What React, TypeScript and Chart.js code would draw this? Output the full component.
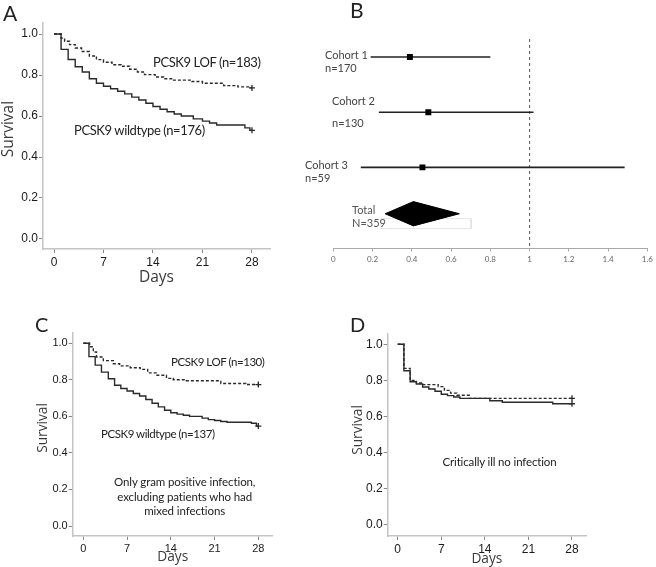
import React, { useEffect, useRef } from 'react';
import { Chart, registerables } from 'chart.js';

Chart.register(...registerables);
Chart.defaults.font.family = 'Liberation Sans';

// ---------------- Data ----------------
const dayTicks = [0, 7, 14, 21, 28];
const survivalTicks = [0, 0.2, 0.4, 0.6, 0.8, 1.0];
const hrTicks = [0, 0.2, 0.4, 0.6, 0.8, 1, 1.2, 1.4, 1.6];

// Panel A – all patients
const aWildDays = [0, 1, 2, 3, 4, 5, 6, 7, 8, 9, 10, 11, 12, 13, 14, 15, 16, 17, 18, 19.7, 21, 22, 23, 27, 27.7, 28];
const aWildSurv = [1, 0.925, 0.876, 0.84, 0.815, 0.782, 0.76, 0.745, 0.733, 0.721, 0.708, 0.692, 0.678, 0.662, 0.646, 0.633, 0.621, 0.61, 0.6, 0.586, 0.575, 0.566, 0.556, 0.542, 0.53, 0.53];
const aLofDays = [0, 1, 1.5, 2.2, 3, 3.9, 5, 6, 7, 8.2, 9.5, 10.7, 11.8, 12.8, 14.3, 15.5, 16.8, 19.5, 21, 24, 26, 27.7, 28];
const aLofSurv = [1, 0.98, 0.965, 0.948, 0.932, 0.915, 0.893, 0.875, 0.862, 0.85, 0.843, 0.828, 0.815, 0.802, 0.79, 0.782, 0.775, 0.768, 0.76, 0.748, 0.742, 0.737, 0.737];

// Panel C – gram positive only
const cWildDays = [0, 0.9, 1.9, 2.9, 4, 5, 6, 7, 8, 9, 10, 11, 12, 13, 14, 15, 16, 17, 19, 20, 21, 22, 23, 26.9, 27.7, 28];
const cWildSurv = [1, 0.927, 0.88, 0.842, 0.806, 0.77, 0.752, 0.739, 0.725, 0.711, 0.692, 0.672, 0.652, 0.633, 0.62, 0.612, 0.606, 0.6, 0.59, 0.582, 0.577, 0.572, 0.568, 0.562, 0.547, 0.547];
const cLofDays = [0, 1, 1.6, 2.1, 3.2, 4.8, 5.8, 7.5, 9.1, 10.3, 11.8, 13.3, 14.4, 16.5, 22, 26, 28];
const cLofSurv = [1, 0.981, 0.952, 0.925, 0.905, 0.888, 0.876, 0.866, 0.857, 0.838, 0.825, 0.808, 0.8, 0.795, 0.78, 0.774, 0.774];

// Panel D – critically ill, no infection
const dWildDays = [0, 1, 2, 3, 4, 5, 6, 7, 8, 9, 10, 14.8, 16.8, 24.9, 28];
const dWildSurv = [1, 0.854, 0.793, 0.78, 0.764, 0.753, 0.74, 0.724, 0.716, 0.708, 0.701, 0.688, 0.679, 0.671, 0.671];
const dLofDays = [0, 1, 2, 3, 4, 6.5, 7.5, 8.5, 9.5, 11.5, 28];
const dLofSurv = [1, 0.867, 0.8, 0.786, 0.777, 0.766, 0.745, 0.73, 0.718, 0.701, 0.701];

// Panel B – forest plot
const cohortLabels = ['Cohort 1', 'Cohort 2', 'Cohort 3'];
const cohortN = ['n=170', 'n=130', 'n=59'];
const cohortHR = [0.39, 0.484, 0.454];
const cohortLow = [0.19, 0.232, 0.14];
const cohortHigh = [0.8, 1.02, 1.484];
const totalLabel = 'Total';
const totalN = 'N=359';
const totalHR = [0.408];
const totalLow = [0.264];
const totalHigh = [0.642];

// ---------------- Helpers ----------------
const INK = '#2a2a2a';
const AXIS = '#c4c4c4';

type Geo = { cx: number; cy: number; cw: number; ch: number; l: number; t: number; r: number; b: number };

function kmSeries(xs: number[], ys: number[], dashed: boolean) {
  const last = xs.length - 1;
  return {
    data: xs.map((x, i) => ({ x, y: ys[i] })),
    stepped: true,
    borderColor: INK,
    borderWidth: 1.4,
    borderDash: dashed ? [3, 2] : [],
    fill: false,
    pointStyle: 'cross',
    pointRadius: (ctx: any) => (ctx.dataIndex === last ? 3 : 0),
    pointBorderColor: INK,
    pointBorderWidth: 1.3,
  };
}

function kmConfig(p: {
  geo: Geo;
  xr: [number, number];
  yr: [number, number];
  wild: [number[], number[]];
  lof: [number[], number[]];
  tickSize: number;
  xTitleSize: number;
  xTitlePad: number;
}): any {
  const g = p.geo;
  return {
    type: 'line',
    data: {
      datasets: [kmSeries(p.wild[0], p.wild[1], false), kmSeries(p.lof[0], p.lof[1], true)],
    },
    options: {
      animation: false,
      responsive: false,
      events: [],
      layout: { padding: { left: 0, top: g.t - g.cy, right: g.cx + g.cw - g.r, bottom: 0 } },
      plugins: { legend: { display: false }, tooltip: { enabled: false } },
      scales: {
        x: {
          type: 'linear',
          min: p.xr[0],
          max: p.xr[1],
          afterFit: (s: any) => { s.height = g.cy + g.ch - g.b; },
          afterBuildTicks: (s: any) => { s.ticks = dayTicks.map((v) => ({ value: v })); },
          ticks: { color: '#1a1a1a', font: { size: p.tickSize }, padding: 2, maxRotation: 0, callback: (v: any) => String(v) },
          grid: { display: true, drawOnChartArea: false, tickLength: 4, color: '#888' },
          border: { display: true, color: AXIS, width: 1.5 },
          title: { display: true, text: 'Days', color: '#3a3a3a', font: { family: 'Open Sans', size: p.xTitleSize, lineHeight: 1 }, padding: { top: 0, bottom: p.xTitlePad } },
        },
        y: {
          type: 'linear',
          min: p.yr[0],
          max: p.yr[1],
          afterFit: (s: any) => { s.width = g.l - g.cx; },
          afterBuildTicks: (s: any) => { s.ticks = survivalTicks.map((v) => ({ value: v })); },
          ticks: { color: '#1a1a1a', font: { size: p.tickSize }, padding: 1, callback: (v: any) => Number(v).toFixed(1) },
          grid: { display: true, drawOnChartArea: false, tickLength: 4, color: '#888' },
          border: { display: true, color: AXIS, width: 1.5 },
          title: { display: false },
        },
      },
    },
  };
}

function forestConfig(g: Geo): any {
  const yMin = 0.673;
  const yMax = 4.47;
  const totalRow = 3.84;
  const half = 0.22;
  const ciSets = cohortLabels.map((_, i) => ({
    data: [{ x: cohortLow[i], y: i + 1 }, { x: cohortHigh[i], y: i + 1 }],
    borderColor: '#222',
    borderWidth: 1.6,
    pointRadius: 0,
    fill: false,
  }));
  return {
    type: 'line',
    data: {
      datasets: [
        {
          data: cohortHR.map((v, i) => ({ x: v, y: i + 1 })),
          showLine: false,
          pointStyle: 'rect',
          pointRadius: 4.2,
          pointBackgroundColor: '#000',
          pointBorderColor: '#000',
          pointBorderWidth: 0,
        },
        ...ciSets,
        {
          data: [
            { x: totalLow[0], y: totalRow },
            { x: totalHR[0], y: totalRow - half },
            { x: totalHigh[0], y: totalRow },
            { x: totalHR[0], y: totalRow + half },
            { x: totalLow[0], y: totalRow },
          ],
          borderColor: '#000',
          backgroundColor: '#000',
          borderWidth: 1,
          pointRadius: 0,
          fill: 'shape',
          tension: 0,
        },
        {
          data: [
            { x: 0.243, y: 3.93 },
            { x: 0.702, y: 3.93 },
            { x: 0.702, y: 4.11 },
            { x: 0.243, y: 4.11 },
            { x: 0.243, y: 3.93 },
          ],
          borderColor: '#e2e2e2',
          backgroundColor: '#ffffff',
          borderWidth: 1,
          pointRadius: 0,
          fill: 'shape',
        },
        {
          data: [{ x: 1, y: yMin }, { x: 1, y: yMax }],
          borderColor: '#555',
          borderWidth: 1,
          borderDash: [3, 3],
          pointRadius: 0,
          fill: false,
        },
      ],
    },
    options: {
      animation: false,
      responsive: false,
      events: [],
      layout: { padding: { left: g.l - g.cx, top: g.t - g.cy, right: g.cx + g.cw - g.r, bottom: 0 } },
      plugins: { legend: { display: false }, tooltip: { enabled: false } },
      scales: {
        x: {
          type: 'linear',
          min: 0,
          max: 1.6,
          afterFit: (s: any) => { s.height = g.cy + g.ch - g.b; },
          afterBuildTicks: (s: any) => { s.ticks = hrTicks.map((v) => ({ value: v })); },
          ticks: { color: '#666', font: { family: 'Lato', size: 8 }, padding: 3, maxRotation: 0, callback: (v: any) => String(Math.round(Number(v) * 10) / 10) },
          grid: { display: true, drawOnChartArea: false, tickLength: 3, color: '#aaa' },
          border: { display: true, color: '#aaa', width: 1 },
        },
        y: { type: 'linear', display: false, reverse: true, min: yMin, max: yMax },
      },
    },
  };
}

function ChartBox({ geo, make }: { geo: Geo; make: () => any }) {
  const ref = useRef<HTMLCanvasElement | null>(null);
  useEffect(() => {
    const chart = new Chart(ref.current as HTMLCanvasElement, make());
    return () => chart.destroy();
  }, []);
  return (
    <canvas
      ref={ref}
      width={geo.cw}
      height={geo.ch}
      style={{ position: 'absolute', left: geo.cx, top: geo.cy, width: geo.cw, height: geo.ch }}
    />
  );
}

function Txt(props: {
  x: number;
  y: number;
  size: number;
  text: string;
  align?: 'left' | 'center' | 'right';
  color?: string;
  lh?: number;
  ls?: number;
  family?: string;
  rotate?: boolean;
}) {
  const align = props.align || 'left';
  const tx = props.rotate ? '-50%' : align === 'center' ? '-50%' : align === 'right' ? '-100%' : '0';
  return (
    <div
      style={{
        position: 'absolute',
        left: props.x,
        top: props.y,
        transform: `translate(${tx}, -50%)${props.rotate ? ' rotate(-90deg)' : ''}`,
        fontFamily: props.family || 'Lato',
        fontSize: props.size,
        letterSpacing: props.ls ? `${props.ls}px` : undefined,
        lineHeight: props.lh ? `${props.lh}px` : 1.15,
        whiteSpace: 'pre',
        textAlign: align,
        color: props.color || '#222',
      }}
    >
      {props.text}
    </div>
  );
}

const geoA: Geo = { cx: 0, cy: 0, cw: 328, ch: 290, l: 43, t: 23, r: 270, b: 249 };
const geoB: Geo = { cx: 328, cy: 0, cw: 328, ch: 290, l: 333.3, t: 39, r: 650.7, b: 248.5 };
const geoC: Geo = { cx: 0, cy: 290, cw: 328, ch: 277, l: 72.7, t: 333, r: 272.7, b: 536 };
const geoD: Geo = { cx: 328, cy: 290, cw: 328, ch: 277, l: 387.7, t: 333.3, r: 586, b: 536 };

export default function App() {
  return (
    <div style={{ position: 'absolute', left: 0, top: 0, width: 656, height: 567, background: '#fff', overflow: 'hidden' }}>
      <ChartBox
        geo={geoA}
        make={() =>
          kmConfig({ geo: geoA, xr: [-1.556, 30.55], yr: [-0.0488, 1.0537], wild: [aWildDays, aWildSurv], lof: [aLofDays, aLofSurv], tickSize: 12, xTitleSize: 15.5, xTitlePad: 5 })
        }
      />
      <ChartBox geo={geoB} make={() => forestConfig(geoB)} />
      <ChartBox
        geo={geoC}
        make={() =>
          kmConfig({ geo: geoC, xr: [-1.7, 30.3], yr: [-0.0547, 1.056], wild: [cWildDays, cWildSurv], lof: [cLofDays, cLofSurv], tickSize: 11, xTitleSize: 13.7, xTitlePad: 3 })
        }
      />
      <ChartBox
        geo={geoD}
        make={() =>
          kmConfig({ geo: geoD, xr: [-1.606, 30.25], yr: [-0.061, 1.061], wild: [dWildDays, dWildSurv], lof: [dLofDays, dLofSurv], tickSize: 12, xTitleSize: 13.7, xTitlePad: 1 })
        }
      />

      {/* y-axis titles */}
      <Txt x={8} y={128.5} size={15.5} family="Open Sans" color="#3a3a3a" rotate text="Survival" />
      <Txt x={41.7} y={428} size={13.7} family="Open Sans" color="#3a3a3a" rotate text="Survival" />
      <Txt x={356.7} y={430} size={13.7} family="Open Sans" color="#3a3a3a" rotate text="Survival" />

      {/* panel letters */}
      <Txt x={3} y={12.5} size={21} text="A" />
      <Txt x={350} y={10} size={21} text="B" />
      <Txt x={35} y={323.5} size={20} text="C" />
      <Txt x={350} y={323.5} size={20} text="D" />

      {/* panel A annotations */}
      <Txt x={153} y={62} size={13} ls={-0.4} text="PCSK9 LOF (n=183)" />
      <Txt x={74} y={130} size={13} ls={-0.4} text="PCSK9 wildtype (n=176)" />

      {/* panel B labels */}
      <Txt x={325} y={55} size={11} color="#444" text={cohortLabels[0]} />
      <Txt x={325} y={68} size={11} color="#444" text={cohortN[0]} />
      <Txt x={332} y={101} size={11} color="#444" text={cohortLabels[1]} />
      <Txt x={332} y={122.5} size={11} color="#444" text={cohortN[1]} />
      <Txt x={305} y={165} size={11} color="#444" text={cohortLabels[2]} />
      <Txt x={305} y={177.5} size={11} color="#444" text={cohortN[2]} />
      <Txt x={352} y={210} size={11} color="#555" text={totalLabel} />
      <Txt x={352} y={222.7} size={11} color="#555" text={totalN} />

      {/* panel C annotations */}
      <Txt x={171} y={362} size={11.5} ls={-0.45} text="PCSK9 LOF (n=130)" />
      <Txt x={101} y={434} size={11.5} ls={-0.45} text="PCSK9 wildtype (n=137)" />
      <Txt x={184.7} y={497} size={11.5} ls={-0.1} lh={14.7} align="center" text={'Only gram positive infection,\nexcluding patients who had\nmixed infections'} />

      {/* panel D annotation */}
      <Txt x={499.5} y={461.7} size={11.5} ls={-0.15} align="center" text="Critically ill no infection" />
    </div>
  );
}
